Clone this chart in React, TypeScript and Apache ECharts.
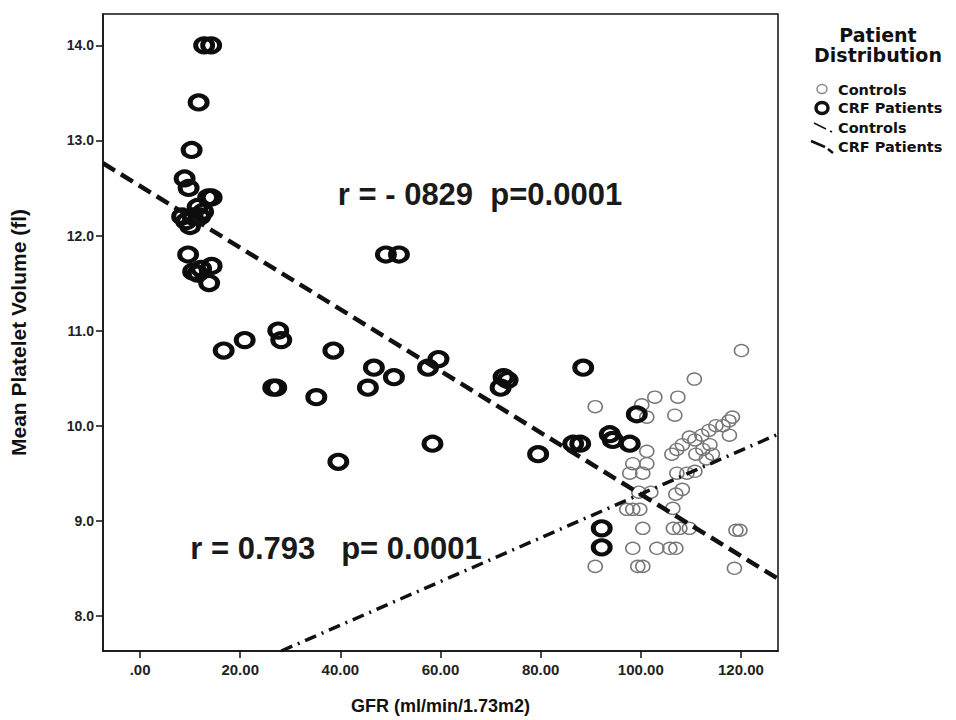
import React, { useEffect, useRef } from "react";
import * as echarts from "echarts";

// GFR (ml/min/1.73m2) vs Mean Platelet Volume (fl)
const crfGFR = [
  12.8, 14.2, 11.7, 10.3, 8.9, 9.7,
  8.4, 10.0, 11.5, 12.6, 14.3, 10.5, 9.2, 13.6, 12.0,
  9.6, 10.6, 12.2, 14.3, 13.8, 11.5,
  16.7, 20.9, 27.6, 28.2, 38.6, 26.6, 27.2, 35.2, 39.6,
  46.7, 50.7, 45.5, 49.1, 51.7, 57.5, 59.6, 58.4,
  72.0, 73.4, 72.6, 88.5, 79.5, 86.5, 87.9, 93.8, 94.4, 97.8, 99.2, 92.2, 92.2,
];
const crfMPV = [
  14.0, 14.0, 13.4, 12.9, 12.6, 12.5,
  12.2, 12.1, 12.3, 12.25, 12.4, 12.2, 12.15, 12.4, 12.2,
  11.8, 11.62, 11.65, 11.68, 11.5, 11.6,
  10.79, 10.9, 11.0, 10.9, 10.79, 10.4, 10.4, 10.3, 9.62,
  10.61, 10.51, 10.4, 11.8, 11.8, 10.61, 10.7, 9.81,
  10.4, 10.48, 10.51, 10.61, 9.7, 9.81, 9.81, 9.91, 9.85, 9.81, 10.12, 8.92, 8.72,
];

const controlGFR = [
  90.9, 100.2, 102.8, 107.4, 106.8, 110.7, 120.1, 101.2,
  101.2, 106.2, 98.4, 101.2, 97.8, 100.4, 107.2, 109.2, 110.8,
  108.3, 107.0, 99.6, 102.0, 97.2, 98.4, 99.8, 106.4,
  100.4, 106.5, 107.8, 109.7, 119.0, 119.8,
  98.4, 103.2, 105.8, 107.0, 90.9, 99.4, 100.4, 118.7,
  110.8, 112.2, 113.6, 115.0, 116.4, 117.6, 118.3, 117.7,
  107.2, 108.3, 109.7, 111.0, 112.4, 113.8, 113.1, 114.3,
];
const controlMPV = [
  10.2, 10.22, 10.3, 10.3, 10.11, 10.49, 10.79, 10.09,
  9.73, 9.7, 9.6, 9.6, 9.5, 9.5, 9.5, 9.5, 9.52,
  9.33, 9.28, 9.3, 9.3, 9.12, 9.12, 9.12, 9.13,
  8.92, 8.92, 8.92, 8.92, 8.9, 8.9,
  8.71, 8.71, 8.71, 8.71, 8.52, 8.52, 8.52, 8.5,
  9.85, 9.9, 9.95, 10.0, 10.0, 10.05, 10.09, 9.9,
  9.75, 9.8, 9.88, 9.7, 9.75, 9.8, 9.65, 9.7,
];

// fit lines (end points)
const crfFitGFR = [-7.4, 127.4];
const crfFitMPV = [12.76, 8.39];
const controlFitGFR = [28.2, 127.4];
const controlFitMPV = [7.63, 9.91];

const xTicks = [0, 20, 40, 60, 80, 100, 120];
const yTicks = [8, 9, 10, 11, 12, 13, 14];

const legendTitle = ["Patient", "Distribution"];
const legendItems = ["Controls", "CRF Patients", "Controls", "CRF Patients"];
const annotations = ["r = - 0829  p=0.0001", "r = 0.793   p= 0.0001"];

const zip = (a: number[], b: number[]) => a.map((v, i) => [v, b[i]]);

export default function App() {
  const ref = useRef<HTMLDivElement>(null);
  useEffect(() => {
    if (!ref.current) return;
    const chart = echarts.init(ref.current, undefined, { renderer: "svg" });
    const axisFont = "'Liberation Sans', Arial, sans-serif";
    const legFont = "'DejaVu Sans', Verdana, sans-serif";
    const option: any = {
      animation: false,
      backgroundColor: "#ffffff",
      grid: {
        left: 100,
        right: 178,
        top: 14,
        bottom: 65,
        show: true,
        borderColor: "#111",
        borderWidth: 1.5,
        backgroundColor: "transparent",
      },
      xAxis: {
        type: "value",
        min: -7.4,
        max: 127.4,
        splitLine: { show: false },
        axisLine: { show: true, onZero: false, lineStyle: { color: "#111", width: 1.5 } },
        axisTick: { show: true, customValues: xTicks, length: 7, lineStyle: { color: "#111", width: 1.5 } },
        axisLabel: {
          customValues: xTicks,
          formatter: (v: number) => (v === 0 ? ".00" : v.toFixed(2)),
          fontFamily: axisFont,
          fontWeight: "bold",
          fontSize: 15,
          color: "#222",
          margin: 11,
        },
        name: "GFR (ml/min/1.73m2)",
        nameLocation: "middle",
        nameGap: 46,
        nameTextStyle: { fontFamily: axisFont, fontWeight: "bold", fontSize: 18, color: "#111" },
      },
      yAxis: {
        type: "value",
        min: 7.63,
        max: 14.33,
        splitLine: { show: false },
        axisLine: { show: true, onZero: false, lineStyle: { color: "#111", width: 1.5 } },
        axisTick: { show: true, customValues: yTicks, length: 7, lineStyle: { color: "#111", width: 1.5 } },
        axisLabel: {
          customValues: yTicks,
          formatter: (v: number) => v.toFixed(1),
          fontFamily: axisFont,
          fontWeight: "bold",
          fontSize: 14,
          color: "#222",
          margin: 9,
        },
        name: "Mean Platelet Volume (fl)",
        nameLocation: "middle",
        nameGap: 74,
        nameTextStyle: { fontFamily: axisFont, fontWeight: "bold", fontSize: 21, color: "#111" },
      },
      series: [
        {
          name: "Controls",
          type: "scatter",
          data: zip(controlGFR, controlMPV),
          symbol: "circle",
          symbolSize: [14, 12],
          itemStyle: { color: "rgba(0,0,0,0)", borderColor: "#777", borderWidth: 1.5, opacity: 1 },
          z: 2,
        },
        {
          name: "CRF Patients",
          type: "scatter",
          data: zip(crfGFR, crfMPV),
          symbol: "circle",
          symbolSize: [17, 14],
          itemStyle: { color: "rgba(0,0,0,0)", borderColor: "#0d0d0d", borderWidth: 4.5, opacity: 1 },
          z: 3,
        },
        {
          name: "CRF fit",
          type: "line",
          data: zip(crfFitGFR, crfFitMPV),
          symbol: "none",
          lineStyle: { color: "#111", width: 4.5, type: [14, 7] },
          z: 4,
        },
        {
          name: "Controls fit",
          type: "line",
          data: zip(controlFitGFR, controlFitMPV),
          symbol: "none",
          lineStyle: { color: "#111", width: 3.5, type: [12, 6, 2, 6] },
          z: 4,
        },
      ],
      graphic: [
        {
          type: "text",
          x: 480,
          y: 194,
          style: {
            text: annotations[0],
            fontFamily: axisFont,
            fontWeight: "bold",
            fontSize: 31,
            fill: "#1a1a1a",
            textAlign: "center",
            textVerticalAlign: "middle",
          },
        },
        {
          type: "text",
          x: 336,
          y: 548,
          style: {
            text: annotations[1],
            fontFamily: axisFont,
            fontWeight: "bold",
            fontSize: 31,
            fill: "#1a1a1a",
            textAlign: "center",
            textVerticalAlign: "middle",
          },
        },
        {
          type: "text",
          x: 878,
          y: 45,
          style: {
            text: legendTitle.join("\n"),
            fontFamily: legFont,
            fontWeight: "bold",
            fontSize: 19,
            lineHeight: 20,
            fill: "#111",
            textAlign: "center",
            textVerticalAlign: "middle",
          },
        },
        { type: "ellipse", shape: { cx: 822, cy: 89, rx: 5, ry: 4.5 }, style: { fill: "none", stroke: "#888", lineWidth: 1.5 } },
        { type: "ellipse", shape: { cx: 822, cy: 108, rx: 6, ry: 5.5 }, style: { fill: "none", stroke: "#111", lineWidth: 3.5 } },
        { type: "line", shape: { x1: 814, y1: 123, x2: 826, y2: 129 }, style: { stroke: "#111", lineWidth: 1.5 } },
        { type: "line", shape: { x1: 830, y1: 131, x2: 832, y2: 132 }, style: { stroke: "#111", lineWidth: 1.5 } },
        { type: "line", shape: { x1: 811, y1: 141, x2: 825, y2: 147 }, style: { stroke: "#111", lineWidth: 2.5 } },
        { type: "line", shape: { x1: 828, y1: 149, x2: 833, y2: 153 }, style: { stroke: "#111", lineWidth: 2.5 } },
        ...legendItems.map((t, i) => ({
          type: "text",
          x: 838,
          y: [90, 108, 128, 147][i],
          style: { text: t, fontFamily: legFont, fontWeight: "bold", fontSize: 14.5, fill: "#111", textAlign: "left", textVerticalAlign: "middle" },
        })),
      ],
    };
    chart.setOption(option);
    return () => chart.dispose();
  }, []);
  return (
    <div
      ref={ref}
      style={{ position: "absolute", left: 0, top: 0, width: 956, height: 720, background: "#fff" }}
    />
  );
}
